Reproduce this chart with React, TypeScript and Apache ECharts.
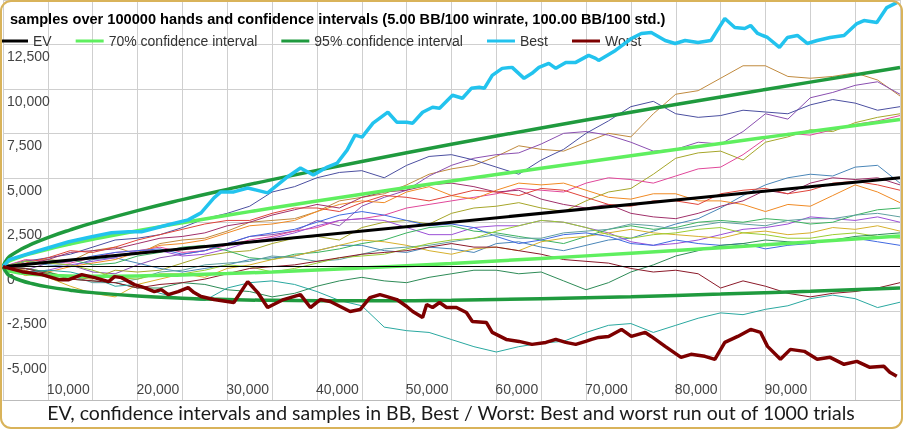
import React, { useEffect, useRef } from "react";
import * as echarts from "echarts";

// ---------- data (BB) ----------
const sampleHands = [0, 2500, 5000, 7500, 10000, 12500, 15000, 17500, 20000, 22500, 25000, 27500, 30000, 32500, 35000, 37500, 40000, 42500, 45000, 47500, 50000, 52500, 55000, 57500, 60000, 62500, 65000, 67500, 70000, 72500, 75000, 77500, 80000, 82500, 85000, 87500, 90000, 92500, 95000, 97500, 100000];

const sampleA = [0, 350, 400, 300, 900, 1100, 700, 1300, 1500, 1600, 2000, 2500, 2600, 2700, 3100, 3700, 3900, 4100, 4600, 5200, 5500, 5700, 6200, 6800, 6600, 6500, 7000, 7500, 7300, 8600, 9700, 9900, 10600, 11300, 11300, 10700, 10600, 10700, 10900, 10500, 9600];
const sampleB = [0, -200, 200, 100, -300, -400, 100, 500, 700, 900, 1300, 1700, 1800, 2000, 2600, 2300, 3400, 3900, 4300, 5100, 5700, 6100, 6300, 6400, 6900, 7500, 7600, 7400, 7000, 6500, 6600, 7000, 6900, 7600, 8600, 8300, 9500, 9800, 10200, 10400, 9700];
const sampleC = [0, 300, 500, 700, 1100, 1500, 1600, 1800, 2200, 2700, 3000, 3400, 4200, 4500, 5000, 5300, 5400, 5000, 5700, 6200, 6300, 6000, 5600, 5200, 6000, 6600, 7500, 8200, 9000, 9300, 8600, 8400, 8500, 8800, 8700, 8600, 9100, 9400, 9200, 8800, 9000];
const sampleD = [0, -100, -300, -600, -700, -200, -300, -200, 200, 600, 800, 900, 1300, 1600, 1700, 1500, 2200, 2500, 2600, 2400, 3000, 3300, 3400, 3600, 3300, 3100, 3700, 4200, 4400, 5200, 6100, 6400, 6500, 6000, 7000, 7300, 7700, 7600, 8100, 8400, 8600];
const sampleE = [0, 400, 300, 200, 500, 800, 900, 1100, 800, 900, 1200, 1500, 1700, 2000, 2200, 2600, 2700, 2900, 3300, 3500, 3700, 3900, 4100, 4400, 4300, 4200, 4700, 5000, 4900, 4700, 5100, 5500, 5600, 6300, 7200, 7500, 7400, 7700, 8000, 8200, 8500];
const sampleF = [0, 300, 100, 0, 400, 500, 200, -100, -300, -100, 100, 400, 500, 600, 900, 1200, 1200, 900, 800, 1100, 1000, 800, 1300, 1400, 1100, 900, 1200, 1500, 1600, 2000, 2400, 2700, 3300, 4000, 4600, 5000, 5200, 5100, 5600, 5700, 4700];
const sampleG = [0, -500, -300, 0, 200, 400, 800, 1200, 1300, 1500, 1900, 2300, 2400, 2600, 3100, 3500, 3700, 3600, 4200, 4500, 4000, 3800, 4300, 4700, 4600, 4700, 4300, 3900, 3800, 4100, 4100, 3700, 3700, 3500, 3100, 3500, 3400, 4000, 4600, 4200, 3600];
const sampleH = [0, 100, 400, 800, 900, 1000, 1300, 1600, 1700, 1900, 2300, 2500, 2900, 3200, 3500, 3300, 3900, 4200, 4300, 4600, 4700, 4500, 4200, 4300, 3800, 3500, 3300, 3500, 3000, 2800, 2700, 3000, 3400, 3700, 4300, 4100, 4700, 5000, 4900, 5000, 4600];
const sampleI = [0, 200, 500, 900, 800, 1100, 1500, 1800, 2100, 2400, 2600, 2600, 3000, 3300, 3300, 3100, 3600, 4000, 3900, 3700, 4000, 4300, 4200, 4000, 4400, 4300, 3900, 3500, 3400, 3700, 3700, 3500, 4100, 4300, 4400, 4100, 4300, 4700, 4800, 4600, 4300];
const sampleJ = [0, -300, -200, 100, 300, 500, 900, 900, 600, 700, 1000, 1400, 1600, 1900, 2300, 2600, 2700, 2600, 2200, 1800, 1800, 2200, 2300, 2300, 2600, 2500, 2200, 1900, 1400, 1200, 1300, 1500, 1800, 2100, 2200, 2400, 2800, 2700, 2600, 2800, 2500];
const sampleK = [0, 100, 300, 400, 100, 200, 600, 800, 1100, 1200, 900, 500, 400, 700, 800, 1000, 1300, 1500, 1900, 2200, 2300, 2000, 1900, 1700, 1500, 1300, 1700, 2100, 2300, 2100, 2200, 2500, 2600, 2500, 2700, 2600, 2400, 2500, 2900, 3200, 3300];
const sampleL = [0, -200, -600, -1100, -1500, -1700, -1000, -700, -400, -600, -100, 100, 400, 600, 900, 1200, 1500, 1400, 1200, 900, 700, 1000, 1100, 900, 1400, 1600, 1700, 1900, 2100, 1900, 1800, 1700, 1600, 1900, 2000, 1800, 1900, 2200, 2100, 2300, 2000];
const sampleM = [0, 300, 200, 300, 600, 800, 900, 1000, 700, 900, 1300, 1700, 1900, 2100, 2500, 2900, 3100, 2900, 2600, 2300, 2400, 2200, 1700, 1300, 1500, 1800, 1900, 1700, 1300, 1200, 1500, 1300, 1200, 1300, 1000, 1200, 1300, 1500, 1600, 1400, 1200];
const sampleN = [0, -100, -400, -500, -900, -900, -700, -300, -200, 100, 200, 300, 600, 500, 300, 400, 700, 1000, 1100, 1200, 1400, 1600, 1800, 1600, 1600, 1900, 2000, 2100, 2400, 2300, 2100, 2300, 2500, 2400, 2300, 2600, 2700, 2700, 2900, 3000, 2800];
const sampleO = [0, 300, 200, 100, -200, -600, -700, -400, -400, -200, 100, 0, -300, -100, 200, 500, 600, 700, 1000, 1300, 1500, 1600, 2000, 2300, 2600, 2500, 2200, 1800, 1600, 1800, 1900, 2100, 2200, 1900, 1800, 1600, 1600, 1800, 1900, 1700, 1600];
const sampleP = [0, -100, -300, -700, -800, -900, -1200, -1200, -900, -1000, -1300, -1400, -1700, -1500, -1100, -800, -600, -800, -900, -600, -400, -200, -200, -400, -300, -800, -1300, -900, -300, 100, 600, 900, 1200, 1300, 1500, 1400, 1300, 1500, 1700, 1800, 1900];
const sampleQ = [0, -100, -400, -700, -800, -900, -1200, -1000, -900, -700, -400, -100, 0, 100, 300, 500, 700, 800, 900, 1100, 1300, 1100, 1100, 900, 700, 400, 300, 200, -100, -300, -200, -400, -1200, -800, -1100, -1500, -1700, -1500, -1400, -1200, -900];
const sampleR = [0, -300, -200, -300, -600, -1100, -1000, -1500, -1800, -1900, -1200, -900, -800, -1000, -1400, -1900, -2200, -3400, -3600, -3700, -4100, -4500, -4800, -4500, -4300, -4200, -3700, -3300, -3200, -3700, -3300, -2900, -2600, -2700, -2400, -2200, -1800, -1600, -1800, -2300, -2000];

const samples = [sampleA, sampleB, sampleC, sampleD, sampleE, sampleF, sampleG, sampleH, sampleI, sampleJ, sampleK, sampleL, sampleM, sampleN, sampleO, sampleP, sampleQ, sampleR];
const sampleColors = ["#c08a3e", "#8a4fb0", "#4b4fa0", "#a6a62a", "#e0479a", "#4a86b8", "#f08a24", "#a0306a", "#e0443a", "#9b4fd6", "#3cb360", "#d6b02c", "#4169e1", "#5fa0a0", "#9acd32", "#2e8b57", "#8b1a2a", "#2aa8a0"];

const ciHands = [0, 500, 1000, 2000, 3000, 5000, 7500, 10000, 15000, 20000, 25000, 30000, 40000, 50000, 60000, 70000, 80000, 90000, 100000];
const ci70Upper = [0, 257, 378, 563, 718, 983, 1273, 1536, 2020, 2466, 2889, 3295, 4073, 4817, 5538, 6242, 6931, 7609, 8277];
const ci70Lower = [0, -207, -278, -363, -418, -483, -523, -536, -520, -466, -389, -295, -73, 183, 462, 758, 1069, 1391, 1723];
const ci95Upper = [0, 463, 670, 977, 1224, 1636, 2072, 2460, 3151, 3772, 4349, 4895, 5920, 6883, 7800, 8686, 9543, 10380, 11198];
const ci95Lower = [0, -413, -570, -777, -924, -1136, -1322, -1460, -1651, -1772, -1849, -1895, -1920, -1883, -1800, -1686, -1543, -1380, -1198];

const evHands = [0, 100000];
const evValues = [0, 5000];

const bestHands = [0, 700, 3570, 7340, 9890, 12100, 13990, 15430, 18420, 20640, 22080, 23520, 24290, 25730, 27280, 29500, 30610, 31710, 33160, 34600, 36150, 37260, 38360, 39250, 40030, 41250, 42910, 43900, 45010, 45680, 46780, 47890, 48670, 50110, 51220, 52210, 53100, 53660, 54540, 55650, 56760, 58090, 58970, 59750, 60850, 61630, 62740, 63850, 65290, 66070, 66400, 68280, 70050, 71160, 72270, 73820, 74930, 76040, 77480, 78920, 80470, 81580, 82690, 83350, 84130, 85230, 86560, 87450, 88560, 89660, 90770, 92210, 93760, 95200, 95980, 97420, 98530, 99640];
const bestValues = [0, 392, 841, 1401, 1682, 1906, 1962, 1962, 2354, 2634, 3027, 3867, 4204, 4204, 4428, 4148, 4596, 5045, 5549, 5157, 5605, 5829, 6558, 7399, 7287, 8071, 8688, 8127, 8127, 8071, 8688, 8968, 8912, 9641, 9472, 10033, 10089, 10033, 10762, 11154, 11210, 10593, 10874, 11210, 11434, 11154, 11490, 11490, 11883, 11714, 11602, 12163, 12835, 13116, 13172, 12723, 12555, 12723, 12611, 12723, 13956, 13452, 13396, 13564, 13116, 12891, 12331, 12891, 13004, 12555, 12723, 12891, 13004, 13676, 13844, 13732, 14573, 14853];

const worstHands = [0, 2130, 4350, 6230, 7340, 8780, 10220, 11770, 12440, 13210, 14650, 15760, 16870, 17650, 18420, 19530, 20640, 21300, 22080, 23520, 25730, 27280, 28400, 29500, 31270, 33160, 34270, 35370, 36480, 37590, 38700, 39810, 40910, 42020, 42800, 43900, 45010, 45680, 46780, 47230, 47890, 48670, 49450, 50550, 51660, 52330, 53880, 54540, 56100, 57530, 58970, 60520, 61630, 62740, 63850, 64960, 65620, 66400, 67510, 68950, 70050, 71600, 72270, 73820, 75590, 76700, 78250, 79360, 80470, 81910, 83350, 84460, 85230, 86670, 87780, 89330, 90770, 92210, 93760, 95200, 96640, 98200, 98860, 99640];
const worstValues = [0, -280, -448, -729, -729, -448, -617, -841, -561, -617, -1009, -1177, -1401, -1289, -1569, -1401, -1177, -1457, -1682, -1850, -2018, -841, -1457, -2298, -1850, -1569, -2298, -1850, -1962, -2242, -2522, -2410, -1738, -1569, -1682, -1850, -2242, -2522, -2859, -2130, -2298, -2018, -2298, -2298, -2578, -3083, -3139, -3699, -4092, -4204, -4372, -4260, -4092, -4260, -4372, -4204, -4092, -3980, -3924, -3531, -3924, -3699, -3924, -4484, -5101, -4932, -5045, -5213, -4260, -3924, -3531, -3699, -4484, -5213, -4652, -4764, -5213, -5101, -5493, -5325, -5661, -5605, -5941, -6166];

const legendNames = ["EV", "70% confidence interval", "95% confidence interval", "Best", "Worst"];
const topTitle = "samples over 100000 hands and confidence intervals (5.00 BB/100 winrate, 100.00 BB/100 std.)";
const bottomTitle = "EV, confidence intervals and samples in BB, Best / Worst: Best and worst run out of 1000 trials";

const pairs = (xs: number[], ys: number[]) => xs.map((x, i) => [x, ys[i]]);

const FONT = "'Liberation Sans', Arial, sans-serif";

export default function App() {
  const ref = useRef<HTMLDivElement>(null);
  useEffect(() => {
    if (!ref.current) return;
    const chart = echarts.init(ref.current, undefined, { renderer: "svg" });

    const sampleSeries = samples.map((vals, i) => ({
      type: "line",
      name: "sample" + i,
      data: pairs(sampleHands, vals),
      showSymbol: false,
      symbol: "none",
      lineStyle: { width: 1, color: sampleColors[i] },
      itemStyle: { color: sampleColors[i] },
      z: 2,
    }));

    const thick = (name: string, xs: number[], ys: number[], color: string, width: number, smooth: boolean, z: number, extra: any = {}) => ({
      type: "line",
      name,
      data: pairs(xs, ys),
      showSymbol: false,
      symbol: "none",
      smooth,
      lineStyle: { width, color },
      itemStyle: { color },
      z,
      ...extra,
    });

    chart.setOption({
      animation: false,
      textStyle: { fontFamily: FONT },
      title: {
        text: topTitle,
        left: 5,
        top: 6,
        textStyle: { fontSize: 14.6, fontWeight: "bold", color: "#000", fontFamily: FONT },
      },
      legend: {
        data: legendNames,
        left: 0,
        top: 29,
        padding: [5, 5, 5, 0],
        icon: "rect",
        itemWidth: 28,
        itemHeight: 3,
        itemGap: 24,
        textStyle: { fontSize: 14, color: "#333", fontFamily: FONT },
      },
      grid: { left: 1, right: 0, top: 0, bottom: 30 },
      xAxis: {
        type: "value",
        min: 0,
        max: 100000,
        interval: 5000,
        axisLine: { show: true, onZero: false, lineStyle: { color: "#bbb" } },
        axisTick: { show: false },
        splitLine: { show: true, lineStyle: { color: "#cfcfcf", width: 1 } },
        axisLabel: {
          inside: true,
          margin: 4,
          align: "right",
          verticalAlign: "bottom",
          padding: [0, 3, 0, 0],
          color: "#444",
          fontSize: 14,
          fontFamily: FONT,
          formatter: (v: number) => (v % 10000 === 0 && v > 0 && v < 100000 ? v.toLocaleString("en-US") : ""),
        },
      },
      yAxis: {
        type: "value",
        min: -7500,
        max: 15000,
        interval: 2500,
        axisLine: { show: false },
        axisTick: { show: false },
        splitLine: { show: true, lineStyle: { color: "#cfcfcf", width: 1 } },
        axisLabel: {
          inside: true,
          margin: 4,
          align: "left",
          verticalAlign: "top",
          padding: [5, 0, 0, 0],
          color: "#444",
          fontSize: 14,
          fontFamily: FONT,
          formatter: (v: number) => (v > -7500 && v < 15000 ? v.toLocaleString("en-US") : ""),
        },
      },
      series: [
        ...sampleSeries,
        thick("70% confidence interval", ciHands, ci70Upper, "#5fef5f", 3.5, true, 3),
        thick("70% confidence interval", ciHands, ci70Lower, "#5fef5f", 3.5, true, 3),
        thick("95% confidence interval", ciHands, ci95Upper, "#1f9a3e", 3.5, true, 3),
        thick("95% confidence interval", ciHands, ci95Lower, "#1f9a3e", 3.5, true, 3),
        thick("EV", evHands, evValues, "#000000", 3, false, 4, {
          markLine: {
            silent: true,
            symbol: "none",
            label: { show: false },
            lineStyle: { color: "#000", width: 1, type: "solid" },
            data: [{ yAxis: 0 }],
          },
        }),
        thick("Best", bestHands, bestValues, "#22c3ee", 3.5, false, 5),
        thick("Worst", worstHands, worstValues, "#7d0000", 3.5, false, 5),
      ],
      graphic: [
        {
          type: "text",
          left: "center",
          top: 402,
          style: { text: bottomTitle, fill: "#1a1a1a", font: "19.5px Lato, 'Open Sans', sans-serif" },
          z: 100,
        },
        {
          type: "rect",
          shape: { x: 1, y: 1, width: 901, height: 427, r: 10 },
          style: { fill: "none", stroke: "#d9b35a", lineWidth: 2 },
          z: 101,
        },
      ],
    });
    return () => chart.dispose();
  }, []);
  return <div ref={ref} style={{ position: "fixed", left: 0, top: 0, width: 903, height: 430 }} />;
}
